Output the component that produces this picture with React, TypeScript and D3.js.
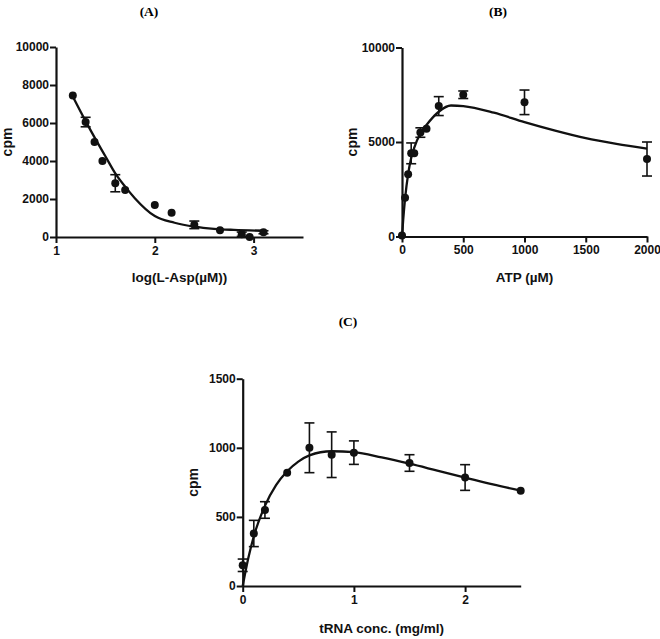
import { useEffect, useRef } from "react";
import * as d3 from "d3";

// (A) L-Asp titration
const aspLog = [1.17, 1.3, 1.39, 1.47, 1.6, 1.7, 2.0, 2.17, 2.4, 2.66, 2.88, 2.96, 3.1];
const aspCpm = [7450, 6050, 5000, 4000, 2830, 2480, 1680, 1280, 640, 350, 150, 0, 250];
const aspErr = [0, 250, 0, 0, 450, 0, 0, 0, 200, 0, 110, 0, 80];
const aspFitX = [1.17, 1.3, 1.4, 1.5, 1.6, 1.7, 1.8, 2.0, 2.2, 2.4, 2.6, 2.8, 3.1];
const aspFitY = [7400, 6100, 5150, 4250, 3350, 2650, 2030, 1100, 750, 545, 430, 375, 330];

// (B) ATP titration
const atpConc = [0, 25, 50, 75, 100, 150, 200, 300, 500, 1000, 2000];
const atpCpm = [50, 2050, 3300, 4400, 4400, 5500, 5700, 6900, 7500, 7100, 4100];
const atpErr = [0, 0, 0, 550, 0, 250, 0, 500, 200, 650, 900];
const atpFitX = [0, 10, 25, 50, 75, 100, 150, 200, 300, 400, 500, 750, 1000, 1250, 1500, 1750, 2000];
const atpFitY = [0, 900, 2000, 3300, 4150, 4700, 5450, 5900, 6600, 6930, 6900, 6550, 6050, 5600, 5200, 4900, 4650];

// (C) tRNA titration
const trnaConc = [0, 0.1, 0.2, 0.4, 0.6, 0.8, 1.0, 1.5, 2.0, 2.5];
const trnaCpm = [150, 380, 550, 820, 1000, 950, 965, 890, 785, 690];
const trnaErr = [45, 95, 60, 0, 180, 165, 85, 60, 93, 0];
const trnaFitX = [0, 0.05, 0.1, 0.2, 0.3, 0.4, 0.5, 0.6, 0.8, 1.0, 1.25, 1.5, 1.75, 2.0, 2.25, 2.5];
const trnaFitY = [0, 200, 360, 580, 730, 830, 900, 945, 975, 968, 930, 885, 835, 785, 735, 690];

// ticks
const aspXTicks = [1, 2, 3];
const aspYTicks = [0, 2000, 4000, 6000, 8000, 10000];
const atpXTicks = [0, 500, 1000, 1500, 2000];
const atpYTicks = [0, 5000, 10000];
const trnaXTicks = [0, 1, 2];
const trnaYTicks = [0, 500, 1000, 1500];

const SANS = "'Liberation Sans', Arial, sans-serif";
const SERIF = "'Liberation Serif', 'DejaVu Serif', serif";

type PanelCfg = {
  title: string;
  titleX: number;
  titleY: number;
  left: number;
  right: number;
  top: number;
  bottom: number;
  xDomain: [number, number];
  yDomain: [number, number];
  xTicks: number[];
  yTicks: number[];
  xs: number[];
  ys: number[];
  errs: number[];
  fitX: number[];
  fitY: number[];
  xLabel: string;
  xLabelY: number;
  yLabelX: number;
};

function drawPanel(svg: d3.Selection<SVGSVGElement, unknown, null, undefined>, p: PanelCfg) {
  const x = d3.scaleLinear().domain(p.xDomain).range([p.left, p.right]);
  const y = d3.scaleLinear().domain(p.yDomain).range([p.bottom, p.top]);
  const g = svg.append("g");

  // title
  g.append("text")
    .attr("x", p.titleX)
    .attr("y", p.titleY)
    .attr("text-anchor", "middle")
    .attr("font-family", SERIF)
    .attr("font-weight", "bold")
    .attr("font-size", 13.5)
    .text(p.title);

  // axes
  const styleAxis = (a: d3.Selection<SVGGElement, unknown, null, undefined>) => {
    a.select(".domain").attr("stroke", "#111").attr("stroke-width", 2.2);
    a.selectAll(".tick line").attr("stroke", "#111").attr("stroke-width", 2);
    a.selectAll("text")
      .attr("font-family", SANS)
      .attr("font-weight", "bold")
      .attr("font-size", 12)
      .attr("fill", "#111");
  };
  g.append("g")
    .attr("transform", `translate(0,${p.bottom})`)
    .call(d3.axisBottom(x).tickValues(p.xTicks).tickFormat(d3.format("d")).tickSize(6).tickSizeOuter(0).tickPadding(3))
    .call(styleAxis);
  g.append("g")
    .attr("transform", `translate(${p.left},0)`)
    .call(d3.axisLeft(y).tickValues(p.yTicks).tickFormat(d3.format("d")).tickSize(6).tickSizeOuter(0).tickPadding(1))
    .call(styleAxis);

  // axis labels
  g.append("text")
    .attr("x", (p.left + p.right) / 2)
    .attr("y", p.xLabelY)
    .attr("text-anchor", "middle")
    .attr("font-family", SANS)
    .attr("font-weight", "bold")
    .attr("font-size", 13.5)
    .attr("fill", "#111")
    .text(p.xLabel);
  g.append("text")
    .attr("transform", `translate(${p.yLabelX},${(p.top + p.bottom) / 2}) rotate(-90)`)
    .attr("text-anchor", "middle")
    .attr("font-family", SANS)
    .attr("font-weight", "bold")
    .attr("font-size", 14)
    .attr("fill", "#111")
    .text("cpm");

  // fitted curve
  const fit: [number, number][] = p.fitX.map((v, i) => [v, p.fitY[i]]);
  const line = d3
    .line<[number, number]>()
    .x((d) => x(d[0]))
    .y((d) => y(d[1]))
    .curve(d3.curveMonotoneX);
  g.append("path")
    .datum(fit)
    .attr("fill", "none")
    .attr("stroke", "#111")
    .attr("stroke-width", 2.3)
    .attr("d", line);

  // error bars
  p.xs.forEach((v, i) => {
    const e = p.errs[i];
    if (!e) return;
    const cx = x(v);
    const y1 = y(p.ys[i] + e);
    const y2 = y(Math.max(p.ys[i] - e, p.yDomain[0]));
    g.append("line").attr("x1", cx).attr("x2", cx).attr("y1", y1).attr("y2", y2).attr("stroke", "#111").attr("stroke-width", 1.6);
    [y1, y2].forEach((yy) =>
      g.append("line").attr("x1", cx - 5).attr("x2", cx + 5).attr("y1", yy).attr("y2", yy).attr("stroke", "#111").attr("stroke-width", 1.6)
    );
  });

  // points
  g.selectAll("circle.pt")
    .data(p.xs)
    .join("circle")
    .attr("class", "pt")
    .attr("cx", (d) => x(d))
    .attr("cy", (_, i) => y(p.ys[i]))
    .attr("r", 4)
    .attr("fill", "#111");
}

export default function App() {
  const ref = useRef<SVGSVGElement>(null);

  useEffect(() => {
    if (!ref.current) return;
    const svg = d3.select(ref.current);
    svg.selectAll("*").remove();

    drawPanel(svg, {
      title: "(A)",
      titleX: 149,
      titleY: 16,
      left: 56,
      right: 303,
      top: 47,
      bottom: 237,
      xDomain: [1, 3.5],
      yDomain: [0, 10000],
      xTicks: aspXTicks,
      yTicks: aspYTicks,
      xs: aspLog,
      ys: aspCpm,
      errs: aspErr,
      fitX: aspFitX,
      fitY: aspFitY,
      xLabel: "log(L-Asp(µM))",
      xLabelY: 282,
      yLabelX: 12,
    });

    drawPanel(svg, {
      title: "(B)",
      titleX: 498,
      titleY: 16,
      left: 402,
      right: 647,
      top: 47.5,
      bottom: 236.5,
      xDomain: [0, 2000],
      yDomain: [0, 10000],
      xTicks: atpXTicks,
      yTicks: atpYTicks,
      xs: atpConc,
      ys: atpCpm,
      errs: atpErr,
      fitX: atpFitX,
      fitY: atpFitY,
      xLabel: "ATP (µM)",
      xLabelY: 282,
      yLabelX: 357,
    });

    drawPanel(svg, {
      title: "(C)",
      titleX: 348,
      titleY: 326,
      left: 242.7,
      right: 520.7,
      top: 378.7,
      bottom: 586,
      xDomain: [0, 2.5],
      yDomain: [0, 1500],
      xTicks: trnaXTicks,
      yTicks: trnaYTicks,
      xs: trnaConc,
      ys: trnaCpm,
      errs: trnaErr,
      fitX: trnaFitX,
      fitY: trnaFitY,
      xLabel: "tRNA conc. (mg/ml)",
      xLabelY: 633,
      yLabelX: 198,
    });
  }, []);

  return (
    <svg
      ref={ref}
      width={660}
      height={639}
      style={{ position: "absolute", left: 0, top: 0, background: "#fff" }}
    />
  );
}
